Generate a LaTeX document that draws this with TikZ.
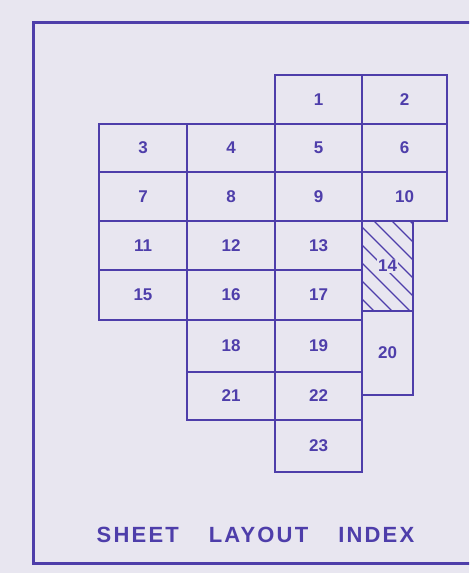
\documentclass[tikz,border=0pt]{standalone}
\usepackage{fontspec}
\setmainfont{Liberation Sans}
\usetikzlibrary{positioning}
\definecolor{inkblue}{RGB}{78,62,170}
\definecolor{paper}{RGB}{232,230,240}
\tikzset{
  frameline/.style={draw=inkblue, line width=3pt},
  sheetline/.style={draw=inkblue, line width=2.6pt, line join=miter},
  hatchline/.style={draw=inkblue, line width=1.1pt},
  sheetno/.style={font=\fontsize{17}{17}\selectfont\bfseries, text=inkblue, inner sep=1pt},
  titletext/.style={font=\addfontfeature{LetterSpace=10}\fontsize{22}{22}\selectfont\bfseries,
    text=inkblue, anchor=base, inner sep=0pt}
}

\begin{document}
\begin{tikzpicture}[x=1pt, y=-1pt]
  \fill[paper] (0,0) rectangle (469,573);
  \useasboundingbox (0,0) rectangle (469,573);
  \clip (0,0) rectangle (469,573);

  % outer frame (right side runs off the sheet)
  \draw[frameline] (33,22) rectangle (495,563);

  % hatching of sheet 14
  \begin{scope}
    \clip (362,221) rectangle (413,311);
    \foreach \k in {-48,-30,...,96} \draw[hatchline] (362,221+\k) -- ++(110,110);
  \end{scope}

  % sheets
  \foreach \n/\xa/\ya/\xb/\yb in {1/275/75/362/124, 2/362/75/447/124,
      3/99/124/187/172, 4/187/124/275/172, 5/275/124/362/172, 6/362/124/447/172,
      7/99/172/187/221, 8/187/172/275/221, 9/275/172/362/221, 10/362/172/447/221,
      11/99/221/187/270, 12/187/221/275/270, 13/275/221/362/270, 14/362/221/413/311,
      15/99/270/187/320, 16/187/270/275/320, 17/275/270/362/320,
      18/187/320/275/372, 19/275/320/362/372, 20/362/311/413/395,
      21/187/372/275/420, 22/275/372/362/420, 23/275/420/362/472}{
    \draw[sheetline] (\xa,\ya) rectangle (\xb,\yb);
    \node[sheetno, fill=paper] (sheet\n) at ({(\xa+\xb)/2},{(\ya+\yb)/2}) {\n};
  }

  \node[titletext] (title) at (255.5,542) {SHEET\hspace{30pt}LAYOUT\hspace{30pt}INDEX};
\end{tikzpicture}
\end{document}
